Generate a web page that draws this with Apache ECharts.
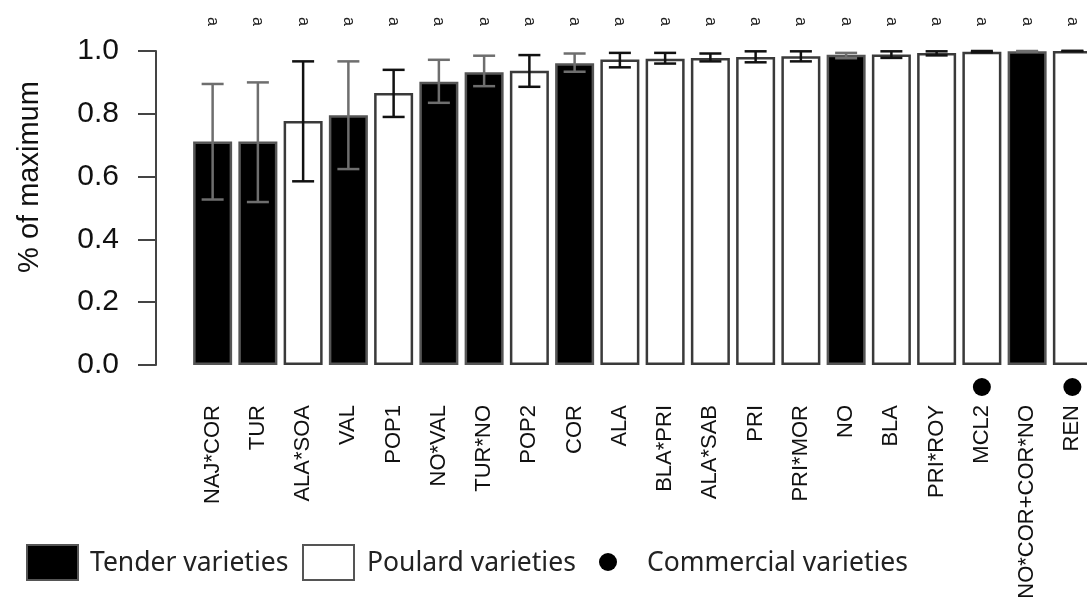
<!DOCTYPE html>
<html>
<head>
<meta charset="utf-8">
<script src="https://cdn.jsdelivr.net/npm/echarts@6/dist/echarts.min.js"></script>
<style>
  html, body { margin: 0; padding: 0; background: #fff; }
  #chart { width: 1087px; height: 601px; }
</style>
</head>
<body>
<div id="chart"></div>
<script>
// Genotypes, ordered by relative performance
const categories = ['NAJ*COR', 'TUR', 'ALA*SOA', 'VAL', 'POP1', 'NO*VAL', 'TUR*NO', 'POP2', 'COR', 'ALA',
  'BLA*PRI', 'ALA*SAB', 'PRI', 'PRI*MOR', 'NO', 'BLA', 'PRI*ROY', 'MCL2', 'NO*COR+COR*NO', 'REN'];
// T = tender wheat, P = poulard wheat
const types = ['T', 'T', 'P', 'T', 'P', 'T', 'T', 'P', 'T', 'P',
  'P', 'P', 'P', 'P', 'T', 'P', 'P', 'P', 'T', 'P'];
// Mean share of the maximum, with lower / upper error limits
const means = [0.712, 0.712, 0.777, 0.795, 0.866, 0.902, 0.932, 0.937, 0.961, 0.973,
  0.975, 0.978, 0.981, 0.983, 0.988, 0.989, 0.994, 0.998, 0.999, 1.0];
const upper = [0.895, 0.900, 0.967, 0.967, 0.940, 0.972, 0.985, 0.987, 0.992, 0.994,
  0.994, 0.992, 0.999, 0.999, 0.994, 0.999, 0.999, 1.0, 1.0, 1.0];
const lower = [0.527, 0.519, 0.585, 0.624, 0.790, 0.835, 0.888, 0.886, 0.934, 0.948,
  0.960, 0.967, 0.964, 0.967, 0.977, 0.978, 0.986, 0.996, 0.998, 1.0];
// Commercial varieties get a dot next to their name
const commercial = ['MCL2', 'REN'];
// Significance group letters
const letters = ['a', 'a', 'a', 'a', 'a', 'a', 'a', 'a', 'a', 'a',
  'a', 'a', 'a', 'a', 'a', 'a', 'a', 'a', 'a', 'a'];
const yTicks = ['0.0', '0.2', '0.4', '0.6', '0.8', '1.0'];

const AXIS_FONT = 'Liberation Sans';
const LEGEND_FONT = 'Noto Sans';

const tenderData = means.map((v, i) => (types[i] === 'T' ? v : '-'));
const poulardData = means.map((v, i) => (types[i] === 'P' ? v : '-'));
const errorData = categories.map((c, i) => [i, lower[i], upper[i]]);

const chart = echarts.init(document.getElementById('chart'), null, { renderer: 'canvas' });

chart.setOption({
  animation: false,
  backgroundColor: '#ffffff',
  // the plot area runs past the right edge, so the last bar is cut off
  grid: { left: 190, width: 905, top: 51, bottom: 236, containLabel: false, outerBoundsMode: 'none' },
  xAxis: [
    {
      type: 'category',
      data: categories,
      axisLine: { show: false },
      axisTick: { show: false },
      axisLabel: {
        rotate: 90,
        margin: 13,
        fontFamily: AXIS_FONT,
        fontSize: 22,
        color: '#111',
        interval: 0,
        formatter: (name) => commercial.includes(name)
          ? name + '{gap|}{dot|}'
          : name + '{pad|}',
        rich: {
          pad: { width: 27 },
          gap: { width: 9 },
          dot: { width: 18, height: 18, backgroundColor: '#000', borderRadius: 9 }
        }
      }
    },
    {
      type: 'category',
      position: 'top',
      data: categories,
      axisLine: { show: false },
      axisTick: { show: false },
      axisLabel: {
        rotate: 90,
        margin: 25,
        fontFamily: AXIS_FONT,
        fontSize: 16,
        color: '#222',
        interval: 0,
        formatter: (name, i) => letters[i]
      }
    }
  ],
  yAxis: {
    type: 'value',
    min: 0,
    max: 1,
    interval: 0.2,
    offset: 34,
    name: '% of maximum',
    nameLocation: 'middle',
    nameRotate: 90,
    nameGap: 112,
    // left padding lifts the rotated title slightly above the axis midpoint
    nameTextStyle: { fontFamily: AXIS_FONT, fontSize: 29, color: '#111', padding: [0, 0, 0, 62] },
    splitLine: { show: false },
    axisLine: { show: true, lineStyle: { color: '#444', width: 2 } },
    axisTick: { show: true, length: 18, lineStyle: { color: '#444', width: 2 } },
    axisLabel: {
      margin: 37,
      fontFamily: AXIS_FONT,
      fontSize: 30,
      color: '#111',
      formatter: (v) => yTicks[Math.round(v / 0.2)]
    }
  },
  series: [
    {
      name: 'Tender varieties',
      type: 'bar',
      data: tenderData,
      barWidth: 39,
      barGap: '-100%',
      itemStyle: { color: '#000', borderColor: '#555', borderWidth: 2.5 }
    },
    {
      name: 'Poulard varieties',
      type: 'bar',
      data: poulardData,
      barWidth: 39,
      barGap: '-100%',
      itemStyle: { color: '#fff', borderColor: '#3a3a3a', borderWidth: 2.5 }
    },
    {
      name: 'error',
      type: 'custom',
      z: 5,
      clip: false,
      data: errorData,
      encode: { x: 0, y: [1, 2] },
      renderItem: (params, api) => {
        const idx = api.value(0);
        const lo = api.coord([idx, api.value(1)]);
        const hi = api.coord([idx, api.value(2)]);
        const half = 11;
        const stroke = types[params.dataIndex] === 'T' ? '#6e6e6e' : '#111';
        const style = { stroke: stroke, lineWidth: 2.5 };
        return {
          type: 'group',
          children: [
            { type: 'line', shape: { x1: hi[0], y1: hi[1], x2: lo[0], y2: lo[1] }, style: style },
            { type: 'line', shape: { x1: hi[0] - half, y1: hi[1], x2: hi[0] + half, y2: hi[1] }, style: style },
            { type: 'line', shape: { x1: lo[0] - half, y1: lo[1], x2: lo[0] + half, y2: lo[1] }, style: style }
          ]
        };
      }
    }
  ],
  graphic: [
    { type: 'rect', shape: { x: 27, y: 545, width: 51, height: 35 },
      style: { fill: '#000', stroke: '#555', lineWidth: 2 } },
    { type: 'text', x: 90, y: 563,
      style: { text: 'Tender varieties', fontFamily: LEGEND_FONT, fontSize: 26.5, fill: '#222', verticalAlign: 'middle' } },
    { type: 'rect', shape: { x: 303, y: 545, width: 51, height: 35 },
      style: { fill: '#fff', stroke: '#555', lineWidth: 2 } },
    { type: 'text', x: 367, y: 563,
      style: { text: 'Poulard varieties', fontFamily: LEGEND_FONT, fontSize: 26.5, fill: '#222', verticalAlign: 'middle' } },
    { type: 'circle', shape: { cx: 608, cy: 562, r: 9 }, style: { fill: '#000' } },
    { type: 'text', x: 647, y: 563,
      style: { text: 'Commercial varieties', fontFamily: LEGEND_FONT, fontSize: 26.5, fill: '#222', verticalAlign: 'middle' } }
  ]
});
</script>
</body>
</html>
